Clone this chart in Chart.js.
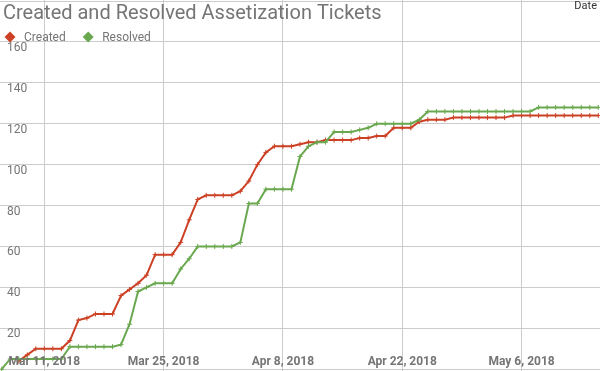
<!DOCTYPE html>
<html>
<head>
<meta charset="utf-8">
<title>Created and Resolved Assetization Tickets</title>
<script src="https://cdn.jsdelivr.net/npm/chart.js@4.4.1/dist/chart.umd.min.js"></script>
<style>
  html, body { margin: 0; padding: 0; background: #fff; }
</style>
</head>
<body>
<canvas id="chart" width="600" height="371"></canvas>
<script>
const chartTitle = 'Created and Resolved Assetization Tickets';
const axisTitle = 'Date';

const dates = [
  '2018-03-06', '2018-03-07', '2018-03-08', '2018-03-09', '2018-03-10',
  '2018-03-11', '2018-03-12', '2018-03-13', '2018-03-14', '2018-03-15', '2018-03-16', '2018-03-17',
  '2018-03-18', '2018-03-19', '2018-03-20', '2018-03-21', '2018-03-22', '2018-03-23', '2018-03-24',
  '2018-03-25', '2018-03-26', '2018-03-27', '2018-03-28', '2018-03-29', '2018-03-30', '2018-03-31',
  '2018-04-01', '2018-04-02', '2018-04-03', '2018-04-04', '2018-04-05', '2018-04-06', '2018-04-07',
  '2018-04-08', '2018-04-09', '2018-04-10', '2018-04-11', '2018-04-12', '2018-04-13', '2018-04-14',
  '2018-04-15', '2018-04-16', '2018-04-17', '2018-04-18', '2018-04-19', '2018-04-20', '2018-04-21',
  '2018-04-22', '2018-04-23', '2018-04-24', '2018-04-25', '2018-04-26', '2018-04-27', '2018-04-28',
  '2018-04-29', '2018-04-30', '2018-05-01', '2018-05-02', '2018-05-03', '2018-05-04', '2018-05-05',
  '2018-05-06', '2018-05-07', '2018-05-08', '2018-05-09', '2018-05-10', '2018-05-11', '2018-05-12',
  '2018-05-13', '2018-05-14', '2018-05-15'
];

// null = no point that day (the red line starts behind the first date label)
const created = [
  null, null, 4, 7, 10,
  10, 10, 10, 14, 24, 25, 27,
  27, 27, 36, 39, 42, 46, 56,
  56, 56, 62, 73, 83, 85, 85,
  85, 85, 87, 92, 100, 106, 109,
  109, 109, 110, 111, 111, 112, 112,
  112, 112, 113, 113, 114, 114, 118,
  118, 118, 121, 122, 122, 122, 123,
  123, 123, 123, 123, 123, 123, 124,
  124, 124, 124, 124, 124, 124, 124,
  124, 124, 124
];

const resolved = [
  0, 5, 5, 5, 5,
  5, 5, 5, 11, 11, 11, 11,
  11, 11, 12, 22, 38, 40, 42,
  42, 42, 49, 54, 60, 60, 60,
  60, 60, 62, 81, 81, 88, 88,
  88, 88, 104, 109, 111, 111, 116,
  116, 116, 117, 118, 120, 120, 120,
  120, 120, 122, 126, 126, 126, 126,
  126, 126, 126, 126, 126, 126, 126,
  126, 126, 128, 128, 128, 128, 128,
  128, 128, 128
];

const tickDates = ['2018-03-11', '2018-03-25', '2018-04-08', '2018-04-22', '2018-05-06'];
const tickLabels = ['Mar 11, 2018', 'Mar 25, 2018', 'Apr 8, 2018', 'Apr 22, 2018', 'May 6, 2018'];
const yTicks = [0, 20, 40, 60, 80, 100, 120, 140, 160, 180];

const RED = '#cc4125';
const GREEN = '#6aa84f';
const GREY = '#757575';

// days counted from the first labelled tick
const origin = Date.parse(tickDates[0]);
const dayOf = s => (Date.parse(s) - origin) / 864e5;
const tickDays = tickDates.map(dayOf);

const overlay = {
  id: 'overlay',
  afterDraw(chart) {
    const ctx = chart.ctx;
    ctx.save();
    ctx.fillStyle = GREY;
    ctx.textBaseline = 'alphabetic';
    ctx.font = '20px Roboto';
    ctx.fillText(chartTitle, 3, 18.5);

    // legend: diamond + label, in dataset order
    ctx.font = '12px Roboto';
    let x = 10;
    chart.data.datasets.forEach(ds => {
      ctx.fillStyle = ds.borderColor;
      ctx.beginPath();
      ctx.moveTo(x, 31.5);
      ctx.lineTo(x + 5.5, 37);
      ctx.lineTo(x, 42.5);
      ctx.lineTo(x - 5.5, 37);
      ctx.closePath();
      ctx.fill();
      ctx.fillStyle = GREY;
      ctx.fillText(ds.label, x + 14, 41);
      x += 14 + ctx.measureText(ds.label).width + 22.5;
    });

    ctx.fillStyle = '#333333';
    ctx.font = '11px Roboto';
    ctx.textAlign = 'right';
    ctx.fillText(axisTitle, 597, 9);
    ctx.restore();
  }
};

new Chart(document.getElementById('chart'), {
  type: 'line',
  data: {
    datasets: [
      {
        label: 'Created',
        data: dates.map((d, i) => ({ x: dayOf(d), y: created[i] })),
        borderColor: RED,
        backgroundColor: RED,
        borderWidth: 2,
        pointStyle: 'cross',
        pointRadius: 2.5,
        pointBorderWidth: 1,
        tension: 0,
        order: 1
      },
      {
        label: 'Resolved',
        data: dates.map((d, i) => ({ x: dayOf(d), y: resolved[i] })),
        borderColor: GREEN,
        backgroundColor: GREEN,
        borderWidth: 2,
        pointStyle: 'cross',
        pointRadius: 2.5,
        pointBorderWidth: 1,
        tension: 0,
        order: 0
      }
    ]
  },
  options: {
    responsive: false,
    animation: false,
    layout: { padding: 0, autoPadding: false },
    plugins: {
      legend: { display: false },
      title: { display: false },
      tooltip: { enabled: false }
    },
    scales: {
      x: {
        type: 'linear',
        min: -5.2,
        max: 65.2,
        afterBuildTicks: s => { s.ticks = tickDays.map(value => ({ value })); },
        afterFit: s => { s.height = 0; s.paddingLeft = 0; s.paddingRight = 0; },
        grid: { color: '#cccccc', drawTicks: false },
        border: { display: false },
        ticks: {
          mirror: true,   // labels sit inside the plot, above the bottom edge
          padding: 2.2,
          z: 1,           // date labels cover the lines, as in the original
          autoSkip: false,
          maxRotation: 0,
          color: GREY,
          font: { family: 'Roboto', size: 12, weight: 'bold' },
          callback: (v, i) => tickLabels[i]
        }
      },
      y: {
        min: -0.88,
        max: 180.5,
        afterBuildTicks: s => { s.ticks = yTicks.map(value => ({ value })); },
        afterFit: s => { s.width = 0; s.paddingTop = 0; s.paddingBottom = 0; },
        grid: { color: '#cccccc', drawTicks: false },
        border: { display: false },
        ticks: {
          mirror: true,
          padding: 7,
          labelOffset: 6,
          color: GREY,
          font: { family: 'Roboto', size: 12 },
          callback: v => (v > 0 && v < 180 ? String(v) : '')
        }
      }
    }
  },
  plugins: [overlay]
});
</script>
</body>
</html>
